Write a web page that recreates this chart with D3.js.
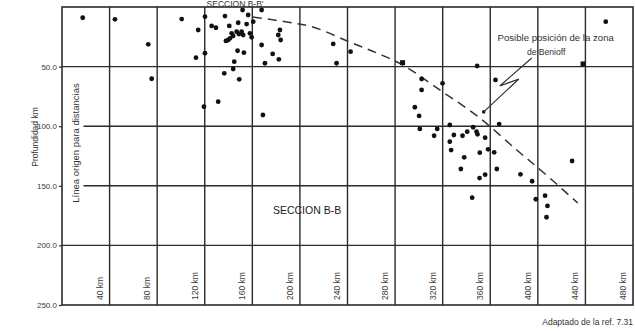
<!DOCTYPE html>
<html>
<head>
<meta charset="utf-8">
<script src="https://cdn.jsdelivr.net/npm/d3@7"></script>
<style>
  body { margin: 0; background: #fff; }
  svg { display: block; font-family: "Liberation Sans", Arial, sans-serif; }
</style>
</head>
<body>
<svg id="chart" width="635" height="331"></svg>
<script>
// distance along section (km) and depth (km)
const distTicks = [40, 80, 120, 160, 200, 240, 280, 320, 360, 400, 440, 480];
const depthTicks = [50, 100, 150, 200, 250];
const depthLabels = ['50.0', '100.0', '150.0', '200.0', '250.0'];

// earthquake hypocentres [km, depth]
const quakeKm = [
  17.4, 44.5, 100.6, 114.5, 72.5, 112.6, 75.4, 120.2, 137.0, 151.8, 156.5, 167.8,
  125.8, 129.4, 148.1, 155.2, 160.7, 140.6, 142.6, 139.7, 143.9, 146.8, 151.0, 152.3,
  158.0, 159.4, 141.2, 137.8, 148.7, 183.2, 181.8, 183.8, 167.8, 120.2, 147.6, 152.9,
  144.8, 143.9, 136.4, 149.0, 170.6, 177.1, 182.3, 119.3, 131.3, 168.9,
  228.0, 242.6, 230.8, 302.3, 302.3, 319.9, 296.6, 300.2, 457.1, 349.0, 364.4,
  326.0, 345.6, 367.5, 300.8, 315.4, 312.8, 329.4, 326.0, 327.1, 336.7, 340.6,
  348.5, 349.3, 355.7, 338.1, 335.3, 351.2, 358.2, 363.3, 355.7, 351.0, 365.5,
  385.4, 395.2, 344.8, 428.8, 398.3, 406.1, 408.1, 407.3
];
const quakeDepth = [
  9.0, 10.3, 10.1, 19.3, 31.3, 42.5, 60.2, 8.1, 7.6, 2.5, 6.7, 2.5,
  15.9, 17.4, 13.2, 14.3, 12.3, 15.9, 22.1, 27.7, 24.3, 20.7, 20.7, 23.5,
  22.1, 25.4, 26.3, 28.5, 22.7, 19.3, 23.5, 27.7, 31.9, 38.8, 36.7, 38.3,
  45.9, 52.0, 55.6, 60.7, 47.2, 39.4, 43.9, 83.6, 79.4, 90.6,
  31.0, 37.5, 47.2, 60.4, 69.6, 64.0, 84.1, 91.4, 12.3, 49.5, 61.2,
  99.0, 100.9, 98.2, 102.3, 102.3, 108.0, 107.4, 113.0, 120.0, 108.0, 104.6,
  104.6, 106.8, 109.6, 126.1, 135.9, 122.2, 119.4, 121.9, 140.7, 143.5, 135.9,
  140.4, 146.2, 160.0, 129.2, 161.3, 158.3, 166.9, 176.4
];
// events printed as small squares
const squareKm = [286.3, 438.0];
const squareDepth = [46.7, 47.8];

// possible Benioff zone (dashed)
const benioffKm = [160.5, 189.1, 210.9, 242.0, 264.7, 286.5, 317.6, 351.2, 382.3, 404.2, 433.6];
const benioffDepth = [8.4, 12.6, 16.8, 29.4, 38.6, 48.7, 69.6, 93.1, 120.0, 138.4, 164.4];

// annotation pointer
const arrowKm = [394.9, 368.0, 384.0, 354.5];
const arrowDepth = [42.8, 66.3, 60.4, 88.0];

const ink = '#2b2b2b';
const svg = d3.select('#chart');

const x = d3.scaleLinear().domain([0, 480]).range([62, 633]);
const y = d3.scaleLinear().domain([0, 250]).range([7, 305]);

const g = svg.append('g');

// grid: horizontal
g.selectAll('.hgrid')
  .data(depthTicks.slice(0, -1))
  .enter().append('line')
  .attr('class', 'hgrid')
  .attr('x1', d => (d === 100 || d === 150) ? x(18) : x(0))
  .attr('x2', x(480))
  .attr('y1', d => y(d))
  .attr('y2', d => y(d))
  .attr('stroke', ink)
  .attr('stroke-width', 1.4);

// grid: vertical
g.selectAll('.vgrid')
  .data(distTicks.slice(0, -1))
  .enter().append('line')
  .attr('class', 'vgrid')
  .attr('x1', d => x(d))
  .attr('x2', d => x(d))
  .attr('y1', y(0))
  .attr('y2', y(250))
  .attr('stroke', ink)
  .attr('stroke-width', 1.4);

// frame
g.append('rect')
  .attr('x', x(0))
  .attr('y', y(0))
  .attr('width', x(480) - x(0))
  .attr('height', y(250) - y(0))
  .attr('fill', 'none')
  .attr('stroke', ink)
  .attr('stroke-width', 1.6);

// left axis ticks and labels
const yAxis = d3.axisLeft(y)
  .tickValues(depthTicks)
  .tickSize(3)
  .tickFormat((d, i) => depthLabels[i]);
const yg = g.append('g')
  .attr('transform', 'translate(' + x(0) + ',0)')
  .call(yAxis);
yg.select('.domain').remove();
yg.selectAll('line').attr('stroke', ink).attr('stroke-width', 1.2);
yg.selectAll('text')
  .attr('fill', '#3a3a3a')
  .attr('font-size', 8)
  .attr('font-family', '"Liberation Sans", Arial, sans-serif')
  .attr('x', -5);

// distance labels, rotated inside the bottom row
g.selectAll('.dlab')
  .data(distTicks)
  .enter().append('text')
  .attr('class', 'dlab')
  .attr('transform', d => 'translate(' + (x(d) - 10) + ',' + (y(250) - 5) + ') rotate(-90)')
  .attr('dy', '0.35em')
  .attr('font-size', 8.5)
  .attr('fill', '#3a3a3a')
  .text(d => d + ' km');

// dashed Benioff line
const line = d3.line()
  .x(d => x(d[0]))
  .y(d => y(d[1]))
  .curve(d3.curveCatmullRom);
g.append('path')
  .datum(benioffKm.map((k, i) => [k, benioffDepth[i]]))
  .attr('d', line)
  .attr('fill', 'none')
  .attr('stroke', '#333')
  .attr('stroke-width', 1.5)
  .attr('stroke-dasharray', '9,6');

// quakes
g.selectAll('.quake')
  .data(quakeKm.map((k, i) => [k, quakeDepth[i]]))
  .enter().append('circle')
  .attr('class', 'quake')
  .attr('cx', d => x(d[0]))
  .attr('cy', d => y(d[1]))
  .attr('r', 2.4)
  .attr('fill', '#111');

g.selectAll('.sq')
  .data(squareKm.map((k, i) => [k, squareDepth[i]]))
  .enter().append('rect')
  .attr('class', 'sq')
  .attr('x', d => x(d[0]) - 2.5)
  .attr('y', d => y(d[1]) - 2.5)
  .attr('width', 5)
  .attr('height', 5)
  .attr('fill', '#111');

// pointer to the dashed line
const arrowPts = arrowKm.map((k, i) => [k, arrowDepth[i]]);
g.append('path')
  .datum(arrowPts)
  .attr('d', d3.line().x(d => x(d[0])).y(d => y(d[1])))
  .attr('fill', 'none')
  .attr('stroke', '#333')
  .attr('stroke-width', 1.2);
const tip = arrowPts[arrowPts.length - 1];
g.append('circle')
  .attr('cx', x(tip[0]))
  .attr('cy', y(tip[1]))
  .attr('r', 1.8)
  .attr('fill', '#222');

// texts
g.append('text')
  .attr('x', 235).attr('y', 6.5)
  .attr('text-anchor', 'middle')
  .attr('font-size', 8.5)
  .attr('fill', '#333')
  .text("SECCION B-B'");

g.append('text')
  .attr('x', x(206)).attr('y', y(170.5))
  .attr('text-anchor', 'middle')
  .attr('dy', '0.35em')
  .attr('font-size', 10.5)
  .attr('fill', '#222')
  .text('SECCION B-B');

g.append('text')
  .attr('x', x(415)).attr('y', y(26))
  .attr('text-anchor', 'middle')
  .attr('dy', '0.35em')
  .attr('font-size', 9.6)
  .attr('fill', '#333')
  .text('Posible posición de la zona');
g.append('text')
  .attr('x', x(407)).attr('y', y(37.7))
  .attr('text-anchor', 'middle')
  .attr('dy', '0.35em')
  .attr('font-size', 8.6)
  .attr('fill', '#333')
  .text('de Benioff');

// vertical origin note
g.append('text')
  .attr('transform', 'translate(' + 76 + ',' + 143 + ') rotate(-90)')
  .attr('text-anchor', 'middle')
  .attr('dy', '0.35em')
  .attr('font-size', 9.5)
  .attr('fill', '#333')
  .text('Línea origen para distancias');

g.append('text')
  .attr('transform', 'translate(35,137) rotate(-90)')
  .attr('text-anchor', 'middle')
  .attr('dy', '0.35em')
  .attr('font-size', 8.5)
  .attr('fill', '#333')
  .text('Profundidad km');

g.append('text')
  .attr('x', 633).attr('y', 325)
  .attr('text-anchor', 'end')
  .attr('font-size', 8.5)
  .attr('fill', '#333')
  .text('Adaptado de la ref. 7.31');
</script>
</body>
</html>
